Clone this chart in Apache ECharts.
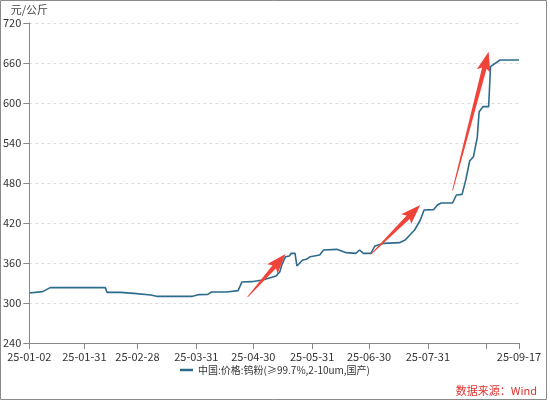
<!DOCTYPE html>
<html><head><meta charset="utf-8">
<script src="https://cdn.jsdelivr.net/npm/echarts@6/dist/echarts.min.js"></script>
<style>html,body{margin:0;padding:0;background:#fff}#c{width:550px;height:401px}</style>
</head><body><div id="c"></div>
<script>
// ---- data ----
const dates = ['2025-01-02','2025-01-09','2025-01-13','2025-02-11','2025-02-12','2025-02-19','2025-02-26','2025-03-07','2025-03-10','2025-03-29','2025-04-01','2025-04-06','2025-04-08','2025-04-16','2025-04-22','2025-04-24','2025-04-29','2025-05-05','2025-05-12','2025-05-14','2025-05-15','2025-05-17','2025-05-19','2025-05-20','2025-05-22','2025-05-23','2025-05-26','2025-05-28','2025-05-30','2025-06-04','2025-06-06','2025-06-13','2025-06-18','2025-06-23','2025-06-25','2025-06-27','2025-07-01','2025-07-03','2025-07-08','2025-07-16','2025-07-19','2025-07-24','2025-07-27','2025-07-29','2025-08-03','2025-08-05','2025-08-07','2025-08-13','2025-08-15','2025-08-18','2025-08-20','2025-08-22','2025-08-24','2025-08-26','2025-08-27','2025-08-29','2025-09-01','2025-09-02','2025-09-03','2025-09-07','2025-09-17'];
const prices = [315,317,323,323,316,316,314.5,312,310,310,312.5,313,316.5,316.5,318.5,331.5,332,334.5,340.5,347,357,369.5,370.5,374.5,374.5,355.5,364.5,365.5,369.5,372,379.5,380.5,375.5,374.5,379.5,374.5,374.5,385.5,389.5,390.5,394.5,409.5,424.5,439.5,440,447,450,450,462,463,485,513,519.5,548,587,594.5,594.5,654.5,657,664.5,664.5];
const labelDates = ['2025-01-02','2025-01-31','2025-02-28','2025-03-31','2025-04-30','2025-05-31','2025-06-30','2025-07-31','2025-09-17'];
const tickDates = ['2025-01-02','2025-01-31','2025-02-28','2025-03-31','2025-04-30','2025-05-31','2025-06-30','2025-07-31','2025-08-31','2025-09-17'];
const yMin = 240, yMax = 720, yStep = 60;
const seriesName = '中国:价格:钨粉(≥99.7%,2-10um,国产)';
const unitName = '元/公斤';
const sourceText = '数据来源：Wind';
// annotation arrows (data coordinates: [date, value] tail -> head)
const arrows = [
  [['2025-04-27', 309], ['2025-05-17', 373.5]],
  [['2025-07-01', 373], ['2025-07-27', 447]],
  [['2025-08-13', 469], ['2025-09-01', 677]]
];

function ts(s){const p=s.split('-');return new Date(+p[0],+p[1]-1,+p[2]).getTime();}
function fmt(v){const d=new Date(v);const p=n=>(n<10?'0':'')+n;return p(d.getFullYear()%100)+'-'+p(d.getMonth()+1)+'-'+p(d.getDate());}

const font = '"Microsoft YaHei","Noto Sans CJK SC",sans-serif';
const chart = echarts.init(document.getElementById('c'));
chart.setOption({
  animation:false,
  textStyle:{fontFamily:font},
  grid:{left:28,right:31,top:23,bottom:58,containLabel:false},
  legend:{bottom:21,left:'center',icon:'rect',itemWidth:13,itemHeight:2.5,itemGap:6,
    textStyle:{fontSize:10,color:'#333',fontFamily:font},data:[seriesName]},
  xAxis:{type:'value',min:ts(dates[0]),max:ts(dates[dates.length-1]),scale:true,
    axisLine:{lineStyle:{color:'#888',width:1}},
    axisTick:{show:true,length:6,lineStyle:{color:'#888'},customValues:tickDates.map(ts)},
    axisLabel:{customValues:labelDates.map(ts),formatter:fmt,fontSize:11,color:'#333',margin:8,fontFamily:font,hideOverlap:false},
    splitLine:{show:false}},
  yAxis:{type:'value',min:yMin,max:yMax,interval:yStep,name:unitName,nameLocation:'end',nameGap:8,
    nameTextStyle:{fontSize:11,color:'#444',fontFamily:font},
    axisLine:{show:true,lineStyle:{color:'#888',width:1}},
    axisTick:{show:true,length:6,lineStyle:{color:'#888'}},
    axisLabel:{fontSize:11,color:'#333',margin:8,fontFamily:font},
    splitLine:{show:true,lineStyle:{color:'#dcdcdc',type:[3,3],width:1}}},
  series:[{name:seriesName,type:'line',symbol:'none',showSymbol:false,
    lineStyle:{color:'#2d6b8c',width:1.6},itemStyle:{color:'#2d6b8c'},
    data:dates.map((d,i)=>[ts(d),prices[i]])}]
});

function arrowPoly(a,b){
  const dx=b[0]-a[0],dy=b[1]-a[1],L=Math.hypot(dx,dy);
  const ux=dx/L,uy=dy/L,nx=-uy,ny=ux;
  const hl=17,hw=7,bw=2.3,tw=0.4,back=3;
  const bx=b[0]-ux*hl,by=b[1]-uy*hl;
  const P=(x,y)=>[x,y];
  return [
    P(a[0]+nx*tw,a[1]+ny*tw),
    P(bx+nx*bw,by+ny*bw),
    P(bx-ux*back+nx*hw,by-uy*back+ny*hw),
    P(b[0],b[1]),
    P(bx-ux*back-nx*hw,by-uy*back-ny*hw),
    P(bx-nx*bw,by-ny*bw),
    P(a[0]-nx*tw,a[1]-ny*tw)
  ];
}
const g=[];
arrows.forEach(ar=>{
  const a=chart.convertToPixel({gridIndex:0},[ts(ar[0][0]),ar[0][1]]);
  const b=chart.convertToPixel({gridIndex:0},[ts(ar[1][0]),ar[1][1]]);
  g.push({type:'polygon',shape:{points:arrowPoly(a,b)},style:{fill:'#f0443a'},z:100});
});
g.push({type:'text',right:13,top:385,style:{text:sourceText,fill:'#e0302c',font:'11px '+font}});
g.push({type:'rect',shape:{x:0.5,y:0.5,width:546,height:399},style:{fill:'none',stroke:'#8a8a8a',lineWidth:1},silent:true});
chart.setOption({graphic:g});
</script></body></html>
